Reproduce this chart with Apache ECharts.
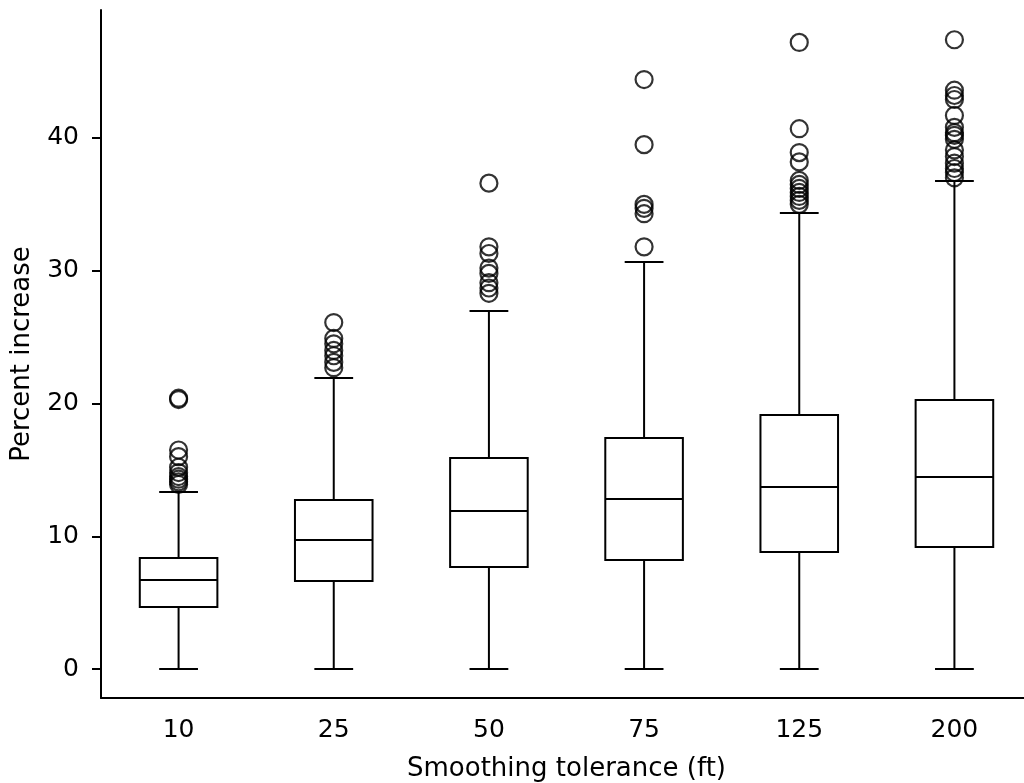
<!DOCTYPE html>
<html>
<head>
<meta charset="utf-8">
<script src="https://cdn.jsdelivr.net/npm/echarts@6/dist/echarts.min.js"></script>
<style>
  html, body { margin: 0; padding: 0; background: #fff; }
  #main { width: 1024px; height: 783px; }
</style>
</head>
<body>
<div id="main"></div>
<script>
// data
var categories = ['10', '25', '50', '75', '125', '200'];
var lowWhisker = [0, 0, 0, 0, 0, 0];
var q1 = [4.67, 6.63, 7.68, 8.21, 8.81, 9.19];
var median = [6.70, 9.72, 11.90, 12.81, 13.71, 14.46];
var q3 = [8.36, 12.73, 15.89, 17.40, 19.13, 20.26];
var highWhisker = [13.33, 21.92, 26.97, 30.66, 34.35, 36.76];

var outliers = [
  [20.4, 20.3, 16.5, 16.0, 15.2, 14.8, 14.5, 14.3, 14.1, 13.9],
  [26.1, 24.9, 24.5, 24.0, 23.6, 23.1, 22.7],
  [36.6, 31.8, 31.3, 30.2, 29.8, 29.1, 28.7, 28.3],
  [44.4, 39.5, 35.0, 34.7, 34.3, 31.8],
  [47.2, 40.7, 38.9, 38.2, 36.8, 36.5, 36.2, 35.9, 35.6, 35.3, 35.0],
  [47.4, 43.6, 43.2, 42.9, 41.7, 40.8, 40.4, 40.2, 39.9, 39.1, 38.6, 38.1, 37.7, 37.4, 37.0]
];

var yTicks = [0, 10, 20, 30, 40];

var myChart = echarts.init(document.getElementById('main'));

var boxData = categories.map(function (c, i) {
  return [i, lowWhisker[i], q1[i], median[i], q3[i], highWhisker[i]];
});
var outlierData = [];
outliers.forEach(function (list, i) {
  list.forEach(function (v) { outlierData.push([i, v]); });
});

var font = 'DejaVu Sans';
var lw = 2;

function renderBox(params, api) {
  var i = api.value(0);
  var band = api.size([1, 0])[0];
  var half = band * 0.25;
  var capHalf = band * 0.125;
  var lo = api.coord([i, api.value(1)]);
  var b = api.coord([i, api.value(2)]);
  var m = api.coord([i, api.value(3)]);
  var t = api.coord([i, api.value(4)]);
  var hi = api.coord([i, api.value(5)]);
  var x = lo[0];
  var style = { stroke: '#000', lineWidth: lw, fill: null };
  return {
    type: 'group',
    children: [
      { type: 'line', shape: { x1: x, y1: b[1], x2: x, y2: lo[1] }, style: style },
      { type: 'line', shape: { x1: x, y1: t[1], x2: x, y2: hi[1] }, style: style },
      { type: 'line', shape: { x1: x - capHalf, y1: lo[1], x2: x + capHalf, y2: lo[1] }, style: style },
      { type: 'line', shape: { x1: x - capHalf, y1: hi[1], x2: x + capHalf, y2: hi[1] }, style: style },
      { type: 'rect', shape: { x: x - half, y: t[1], width: half * 2, height: b[1] - t[1] },
        style: { stroke: '#000', lineWidth: lw, fill: '#fff' } },
      { type: 'line', shape: { x1: x - half, y1: m[1], x2: x + half, y2: m[1] }, style: style }
    ]
  };
}

var option = {
  backgroundColor: '#fff',
  animation: false,
  grid: {
    left: 101,
    top: 10,
    width: 931,
    height: 688,
    containLabel: false,
    outerBoundsMode: 'none'
  },
  xAxis: {
    type: 'category',
    data: categories,
    boundaryGap: true,
    name: 'Smoothing tolerance (ft)',
    nameLocation: 'middle',
    nameGap: 58,
    nameTextStyle: { fontFamily: font, fontSize: 26, color: '#000' },
    axisLine: { onZero: false, lineStyle: { color: '#000', width: 2 } },
    axisTick: { alignWithLabel: true, length: 9, lineStyle: { color: '#000', width: 2 } },
    axisLabel: { margin: 20, fontFamily: font, fontSize: 25, color: '#000' },
    splitLine: { show: false }
  },
  yAxis: {
    type: 'value',
    min: -2.18,
    max: 49.64,
    name: 'Percent increase',
    nameLocation: 'middle',
    nameGap: 66,
    nameRotate: 90,
    nameTextStyle: { fontFamily: font, fontSize: 26, color: '#000' },
    axisLine: { show: true, onZero: false, lineStyle: { color: '#000', width: 2 } },
    axisTick: { show: true, length: 9, customValues: yTicks, lineStyle: { color: '#000', width: 2 } },
    axisLabel: { margin: 22, customValues: yTicks, fontFamily: font, fontSize: 25, color: '#000' },
    splitLine: { show: false }
  },
  series: [
    {
      type: 'custom',
      renderItem: renderBox,
      encode: { x: 0, y: [1, 2, 3, 4, 5] },
      data: boxData,
      z: 2
    },
    {
      type: 'scatter',
      data: outlierData,
      symbol: 'circle',
      symbolSize: 17,
      itemStyle: { color: 'rgba(0,0,0,0)', borderColor: '#000', borderWidth: 2.2 },
      z: 3
    }
  ]
};

myChart.setOption(option);
</script>
</body>
</html>
